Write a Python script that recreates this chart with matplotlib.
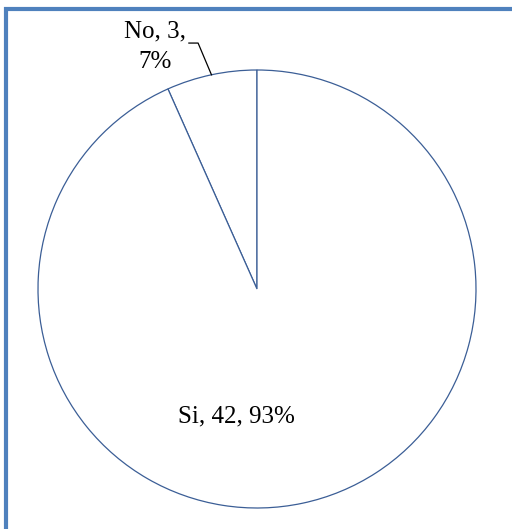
import matplotlib
matplotlib.use("Agg")
import matplotlib.pyplot as plt
from matplotlib.lines import Line2D
import numpy as np

# answers and counts
categories = ["No", "Si"]
counts = [3, 42]

plt.rcParams["font.family"] = ["Liberation Serif", "DejaVu Serif"]

W, H = 512, 529
fig = plt.figure(figsize=(W / 100, H / 100), dpi=100)

# pie centre (257, 289) px, radius 219 px
cx, cy, r = 257, 289, 219
ax = fig.add_axes([(cx - r) / W, (H - cy - r) / H, 2 * r / W, 2 * r / H])

edge = "#3B5E96"
wedges, _ = ax.pie(counts, startangle=90, counterclock=True, radius=1,
                   colors=["white", "white"],
                   wedgeprops=dict(edgecolor=edge, linewidth=0.9))
ax.set_xlim(-1, 1)
ax.set_ylim(-1, 1)
ax.set_aspect("equal")
ax.axis("off")

total = sum(counts)
pcts = [round(100 * c / total) for c in counts]

# "No" label above the pie with a leader line
ang = np.deg2rad((wedges[0].theta1 + wedges[0].theta2) / 2)
ax.plot([np.cos(ang), -0.269, -0.311], [np.sin(ang), 1.123, 1.123],
        color="black", lw=0.9, clip_on=False)
ax.text(-0.466, 1.105, f"{categories[0]}, {counts[0]},\n{pcts[0]}%",
        ha="center", va="center", fontsize=18, linespacing=1.5)

# "Si" label inside its wedge
ax.text(-0.096, -0.584, f"{categories[1]}, {counts[1]}, {pcts[1]}%",
        ha="center", va="center", fontsize=18)

# chart frame (left and top edges)
blue = "#4F81BD"
fig.add_artist(Line2D([6 / W, 6 / W], [0, 1 - 7 / H], transform=fig.transFigure,
                      color=blue, lw=3, solid_capstyle="butt"))
fig.add_artist(Line2D([4 / W, 1], [1 - 9 / H, 1 - 9 / H], transform=fig.transFigure,
                      color=blue, lw=3, solid_capstyle="butt"))

fig.savefig("out.png", dpi=100)
